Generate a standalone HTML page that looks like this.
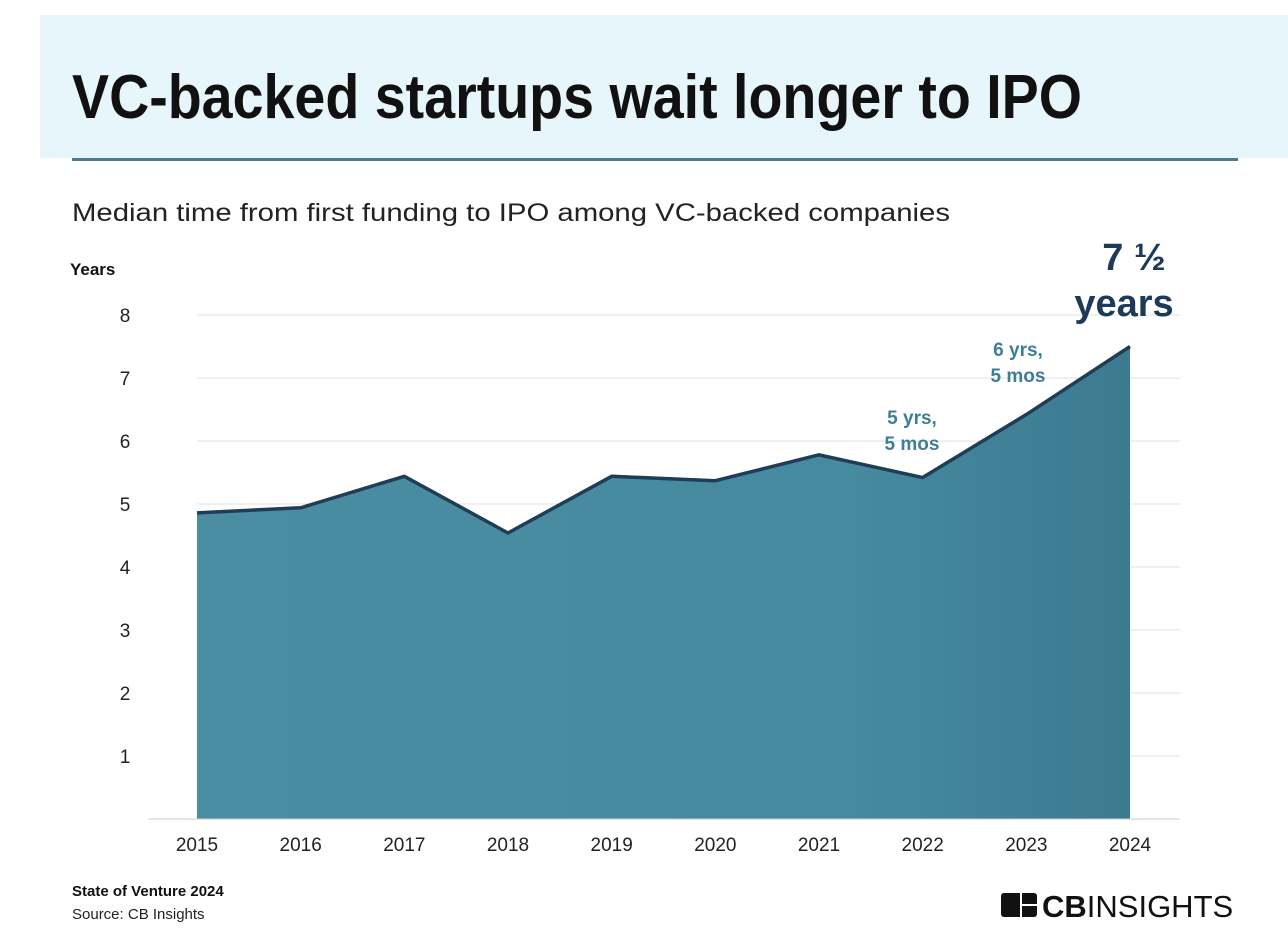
<!DOCTYPE html>
<html><head><meta charset="utf-8"><style>
html,body{margin:0;padding:0;background:#fff;}
svg{display:block;font-family:"Liberation Sans",sans-serif;}
</style></head><body>
<svg id="chart" width="1288" height="952" viewBox="0 0 1288 952">
<defs>
<linearGradient id="ag" x1="0" x2="1" y1="0" y2="0">
<stop offset="0" stop-color="#4a8da2"/><stop offset="0.7" stop-color="#468aa0"/><stop offset="1" stop-color="#3c7a90"/>
</linearGradient>
</defs>
<rect x="40" y="15" width="1248" height="143" fill="#e6f6fb"/>
<text x="72" y="118" font-size="62" font-weight="bold" fill="#111" textLength="1010" lengthAdjust="spacingAndGlyphs">VC-backed startups wait longer to IPO</text>
<rect x="72" y="158" width="1166" height="3" fill="#4b7c8c"/>
<text x="72" y="221" font-size="25" fill="#222" textLength="878" lengthAdjust="spacingAndGlyphs">Median time from first funding to IPO among VC-backed companies</text>
<text x="70" y="275" font-size="17" font-weight="bold" fill="#111">Years</text>
<g id="grid"></g>
<g id="area"></g>
<g id="xaxis"></g>
<text x="1134" y="270" font-size="38" font-weight="bold" fill="#1e3a5a" text-anchor="middle">7 ½</text>
<text x="1124" y="316" font-size="38" font-weight="bold" fill="#1e3a5a" text-anchor="middle">years</text>
<text x="1018" y="356" font-size="19" font-weight="bold" fill="#3d7f95" text-anchor="middle">6 yrs,</text>
<text x="1018" y="382" font-size="19" font-weight="bold" fill="#3d7f95" text-anchor="middle">5 mos</text>
<text x="912" y="424" font-size="19" font-weight="bold" fill="#3d7f95" text-anchor="middle">5 yrs,</text>
<text x="912" y="450" font-size="19" font-weight="bold" fill="#3d7f95" text-anchor="middle">5 mos</text>
<text x="72" y="896" font-size="15" font-weight="bold" fill="#111">State of Venture 2024</text>
<text x="72" y="919" font-size="15" fill="#222">Source: CB Insights</text>
<g>
<rect x="1001" y="893" width="36" height="24" rx="3" fill="#111"/>
<rect x="1020" y="893" width="2" height="24" fill="#fff"/>
<rect x="1020" y="904" width="17" height="2" fill="#fff"/>
<text x="1042" y="917" font-size="31" fill="#111"><tspan font-weight="bold">CB</tspan>INSIGHTS</text>
</g>
</svg>
<script>
const years=['2015','2016','2017','2018','2019','2020','2021','2022','2023','2024'];
const values=[4.86,4.94,5.44,4.54,5.44,5.37,5.78,5.42,6.42,7.5];
const yTicks=[1,2,3,4,5,6,7,8];
const NS='http://www.w3.org/2000/svg';
const x0=197,x1=1130,yBase=819,yPer=63;
function xs(i){return x0+(x1-x0)*i/(years.length-1);}
function ys(v){return yBase-v*yPer;}
function mk(tag,attrs,parent){const e=document.createElementNS(NS,tag);for(const k in attrs)e.setAttribute(k,attrs[k]);parent.appendChild(e);return e;}
const grid=document.getElementById('grid');
yTicks.forEach(t=>{
 const l=mk('line',{x1:197,x2:1180,y1:ys(t),y2:ys(t),stroke:'#e2e2e2','stroke-width':1},grid);
 
 
 const tx=mk('text',{x:125,y:ys(t)+7,'font-size':19,fill:'#222','text-anchor':'middle'},grid);
 tx.textContent=t;
 
 
});
const area=document.getElementById('area');
let pts=values.map((v,i)=>xs(i)+','+ys(v));
const poly=mk('polygon',{points:xs(0)+','+yBase+' '+pts.join(' ')+' '+xs(values.length-1)+','+yBase,fill:'url(#ag)'},area);


const line=mk('polyline',{points:pts.join(' '),fill:'none',stroke:'#1f3d55','stroke-width':3.5,'stroke-linejoin':'round'},area);


const xa=document.getElementById('xaxis');
const ax=mk('line',{x1:148,x2:1180,y1:yBase,y2:yBase,stroke:'#ccc','stroke-width':1},xa);


years.forEach((y,i)=>{
 const t=mk('text',{x:xs(i),y:851,'font-size':19,fill:'#222','text-anchor':'middle'},xa);
 t.textContent=y;
 
 
});
</script>
</body></html>
